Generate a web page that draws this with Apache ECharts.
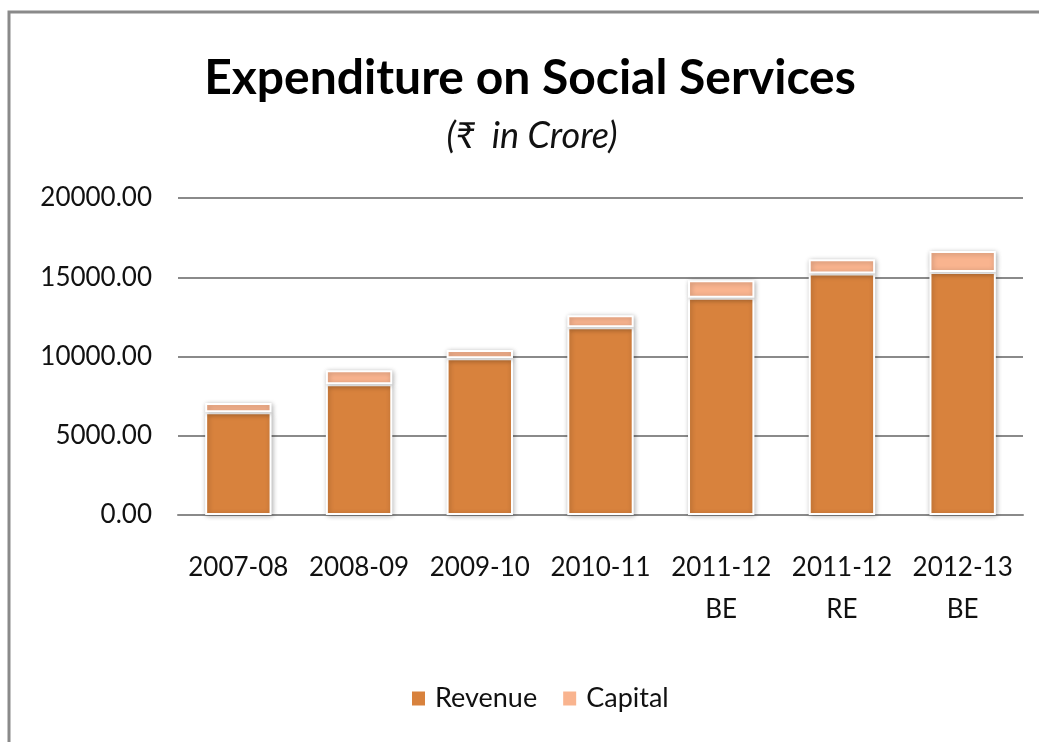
<!DOCTYPE html>
<html>
<head>
<meta charset="utf-8">
<script src="https://cdn.jsdelivr.net/npm/echarts@6/dist/echarts.min.js"></script>
<style>
html,body{margin:0;padding:0;background:#fff;}
#chart{width:1039px;height:742px;}
</style>
</head>
<body>
<div id="chart"></div>
<script>
const categories = ['2007-08', '2008-09', '2009-10', '2010-11', '2011-12\nBE', '2011-12\nRE', '2012-13\nBE'];
const revenue = [6480, 8250, 9890, 11840, 13710, 15230, 15330];
const capital = [580, 880, 520, 770, 1100, 900, 1320];
const yTicks = [0, 5000, 10000, 15000, 20000];

const chart = echarts.init(document.getElementById('chart'));
const FONT = 'Lato, "Noto Sans", sans-serif';
const itemStyleBase = {
  borderColor: '#ffffff',
  borderWidth: 2,
  shadowBlur: 5,
  shadowColor: 'rgba(0,0,0,0.28)',
  shadowOffsetX: 1,
  shadowOffsetY: 1
};
chart.setOption({
  animation: false,
  backgroundColor: '#ffffff',
  graphic: [
    { type: 'rect', shape: { x: 9, y: 12, width: 1200, height: 900 },
      style: { fill: 'none', stroke: '#8a8a8a', lineWidth: 3 }, silent: true },
    { type: 'text', x: 530, y: 79,
      style: { text: 'Expenditure on Social Services', font: 'bold 48px ' + FONT, fill: '#000', textAlign: 'center', textVerticalAlign: 'middle' } },
    { type: 'text', x: 532, y: 136,
      style: { text: '(\u20B9  in Crore)', font: 'italic 36px ' + FONT, fill: '#111', textAlign: 'center', textVerticalAlign: 'middle' } }
  ],
  legend: {
    data: ['Revenue', 'Capital'],
    left: 405,
    top: 680,
    itemWidth: 15,
    itemHeight: 16,
    itemGap: 24,
    icon: 'rect',
    textStyle: { fontFamily: FONT, fontSize: 27, color: '#111', padding: [0, 0, 0, 4] }
  },
  grid: { left: 178, right: 16, top: 198, bottom: 227, containLabel: false },
  xAxis: {
    type: 'category',
    data: categories,
    axisLine: { show: true, lineStyle: { color: '#8a8a8a', width: 2 } },
    axisTick: { show: false },
    axisLabel: { fontFamily: FONT, fontSize: 26, color: '#111', margin: 32, lineHeight: 42, interval: 0 }
  },
  yAxis: {
    type: 'value',
    min: 0,
    max: 20000,
    interval: 5000,
    axisLine: { show: false },
    axisTick: { show: false },
    splitLine: { lineStyle: { color: '#8a8a8a', width: 2 } },
    axisLabel: { fontFamily: FONT, fontSize: 26, color: '#111', margin: 26,
      formatter: v => yTicks.indexOf(v) >= 0 ? v.toFixed(2) : '' }
  },
  series: [
    { name: 'Revenue', type: 'bar', stack: 'total', data: revenue, barWidth: '55%',
      itemStyle: Object.assign({ color: '#D8823D' }, itemStyleBase) },
    { name: 'Capital', type: 'bar', stack: 'total', data: capital, barWidth: '55%',
      itemStyle: Object.assign({ color: '#F9B48F' }, itemStyleBase) }
  ]
});
</script>
</body>
</html>
